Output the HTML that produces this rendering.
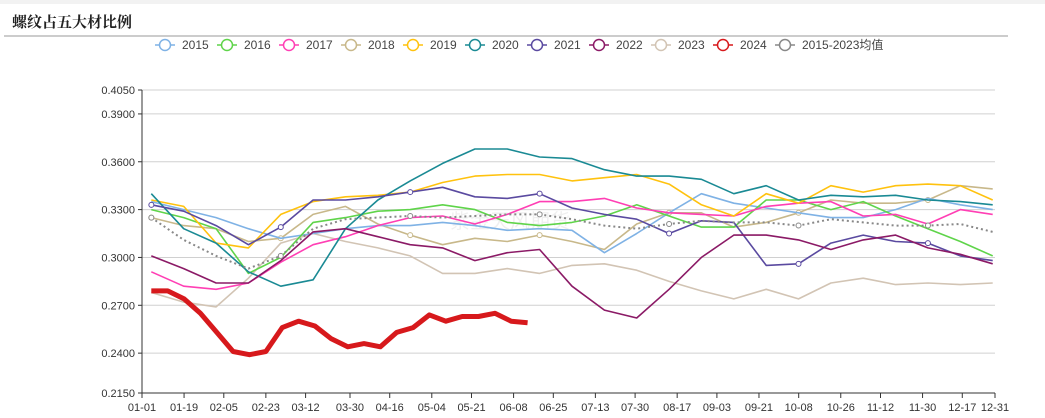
<!DOCTYPE html>
<html><head><meta charset="utf-8">
<style>
body{margin:0;background:#fff;width:1045px;height:418px;overflow:hidden;font-family:"Liberation Sans","Noto Sans CJK SC",sans-serif;}
svg{display:block}
</style></head>
<body>
<svg id="chart" width="1045" height="418" xmlns="http://www.w3.org/2000/svg">
<rect x="0" y="0" width="1045" height="4" fill="#f2f2f2"/>
<text x="12" y="27" font-size="15" font-weight="bold" fill="#222" font-family="'Noto Serif CJK SC','Noto Sans CJK SC',serif">螺纹占五大材比例</text>
<line x1="4" y1="36" x2="1008" y2="36" stroke="#999" stroke-width="1"/>
<g id="grid"></g>
<text x="510" y="228" font-size="20" fill="#000" opacity="0.06" text-anchor="middle">紫金天风期货</text>
<g id="series"></g>
<g id="axes"></g>
<g id="legend"></g>
</svg>
<script>
const yTicks=[0.405,0.39,0.36,0.33,0.30,0.27,0.24,0.215];
const xLabels=["01-01","01-19","02-05","02-23","03-12","03-30","04-16","05-04","05-21","06-08","06-25","07-13","07-30","08-17","09-03","09-21","10-08","10-26","11-12","11-30","12-17","12-31"];
const xLabelDays=[0,18,35,53,70,89,106,124,141,159,176,194,211,229,246,264,281,299,316,334,351,365];
const seriesNames=["2015","2016","2017","2018","2019","2020","2021","2022","2023","2024","2015-2023均值"];
const v2015=[.335,.330,.325,.318,.312,.315,.318,.320,.320,.322,.320,.317,.318,.317,.303,.315,.328,.340,.334,.331,.328,.325,.325,.330,.337,.333,.330];
const v2016=[.330,.325,.318,.290,.300,.322,.325,.329,.330,.333,.330,.322,.320,.322,.326,.333,.326,.319,.319,.336,.336,.330,.335,.326,.318,.310,.301];
const v2017=[.291,.282,.280,.284,.297,.308,.313,.320,.325,.326,.321,.327,.335,.335,.337,.331,.328,.327,.326,.332,.334,.335,.326,.327,.321,.330,.327];
const v2018=[.325,.320,.318,.310,.312,.327,.332,.321,.314,.308,.312,.310,.314,.310,.305,.321,.328,.328,.319,.322,.328,.336,.334,.334,.336,.345,.343];
const v2019=[.336,.332,.309,.306,.327,.335,.338,.339,.341,.347,.351,.352,.352,.348,.350,.352,.346,.333,.326,.340,.334,.345,.341,.345,.346,.345,.336];
const v2020=[.340,.318,.309,.291,.282,.286,.318,.336,.348,.359,.368,.368,.363,.362,.355,.351,.351,.349,.340,.345,.336,.339,.338,.339,.336,.335,.333];
const v2021=[.333,.329,.320,.308,.319,.336,.336,.338,.341,.344,.338,.337,.340,.331,.327,.324,.315,.323,.322,.295,.296,.309,.314,.310,.309,.301,.298];
const v2022=[.301,.293,.284,.284,.298,.316,.318,.313,.308,.306,.298,.303,.305,.282,.267,.262,.280,.300,.314,.314,.311,.305,.311,.314,.306,.302,.296];
const v2023=[.278,.272,.269,.287,.309,.315,.310,.306,.301,.290,.290,.293,.290,.295,.296,.292,.285,.279,.274,.280,.274,.284,.287,.283,.284,.283,.284];
const v2024=[.279,.279,.274,.265,.253,.241,.239,.241,.256,.260,.257,.249,.244,.246,.244,.253,.256,.264,.260,.263,.263,.265,.260,.259];
const vAvg=[.325,.311,.301,.293,.301,.318,.324,.325,.326,.325,.326,.327,.327,.324,.320,.318,.321,.323,.322,.322,.320,.324,.322,.320,.320,.321,.316];
const colors=["#7fb2e5","#5fd44a","#ff3fb4","#c8b88a","#ffc20e","#1a8a94","#5a4aa0","#8b1a66","#d2c4b4","#d7191c","#888"];
const all=[v2015,v2016,v2017,v2018,v2019,v2020,v2021,v2022,v2023,v2024,vAvg];

const NS="http://www.w3.org/2000/svg";
const X0=142,X1=995,Y0=393,Y1=90,VMIN=0.215,VMAX=0.405;
const xs=d=>X0+d*(X1-X0)/365;
const ys=v=>Y0-(v-VMIN)*(Y0-Y1)/(VMAX-VMIN);
function mk(tag,attrs,parent){const e=document.createElementNS(NS,tag);for(const k in attrs)e.setAttribute(k,attrs[k]);parent.appendChild(e);return e;}
const grid=document.getElementById('grid'),axes=document.getElementById('axes'),ser=document.getElementById('series'),leg=document.getElementById('legend');

yTicks.forEach(t=>{
  const y=ys(t);
  const g=mk('line',{x1:X0,x2:X1,y1:y,y2:y,stroke:'#d0d0d0','stroke-width':1},grid);
  
  
  const tk=mk('line',{x1:X0-4,x2:X0,y1:y,y2:y,stroke:'#333'},axes);
  
  
  const tx=mk('text',{x:X0-7,y:y+4,'font-size':11,'text-anchor':'end',fill:'#333'},axes);
  tx.textContent=t.toFixed(4);
  
  
});
const ya=mk('line',{x1:X0,x2:X0,y1:Y1,y2:Y0,stroke:'#333'},axes);


const xa=mk('line',{x1:X0,x2:X1,y1:Y0,y2:Y0,stroke:'#333'},axes);


xLabels.forEach((l,i)=>{
  const x=xs(xLabelDays[i]);
  const tk=mk('line',{x1:x,x2:x,y1:Y0,y2:Y0+5,stroke:'#333'},axes);
  
  
  const tx=mk('text',{x:x,y:Y0+18,'font-size':11,'text-anchor':'middle',fill:'#333'},axes);
  tx.textContent=l;
  
  
});

const order=[8,3,0,1,2,4,5,6,7,10,9];
order.forEach(si=>{
  const vals=all[si];
  const weekly=(si===9);
  const day=i=>weekly?4+7*i:4+i*360/(vals.length-1);
  const pts=vals.map((v,i)=>xs(day(i)).toFixed(1)+','+ys(v).toFixed(1)).join(' ');
  const attrs={points:pts,fill:'none',stroke:colors[si],'stroke-width':si===9?5:(si===10?2:1.6),'stroke-linejoin':'round'};
  if(si===10)attrs['stroke-dasharray']='2,3';
  const pl=mk('polyline',attrs,ser);
  
  
  if(si===6||si===10||si===3){
    vals.forEach((v,i)=>{ if(i%4===0){
      const c=mk('circle',{cx:xs(day(i)),cy:ys(v),r:2.5,fill:'#fff',stroke:colors[si],'stroke-width':1},ser);
      
      
    }});
  }
});

seriesNames.forEach((n,i)=>{
  const x=155+i*62;
  const g=mk('g',{},leg);
  
  
  mk('line',{x1:x,x2:x+20,y1:45,y2:45,stroke:colors[i],'stroke-width':1.5},g);
  mk('circle',{cx:x+10,cy:45,r:5.5,fill:'#fff',stroke:colors[i],'stroke-width':1.5},g);
  const t=mk('text',{x:x+27,y:49,'font-size':12,fill:'#444'},g);
  t.textContent=n;
});
</script>
</body></html>
